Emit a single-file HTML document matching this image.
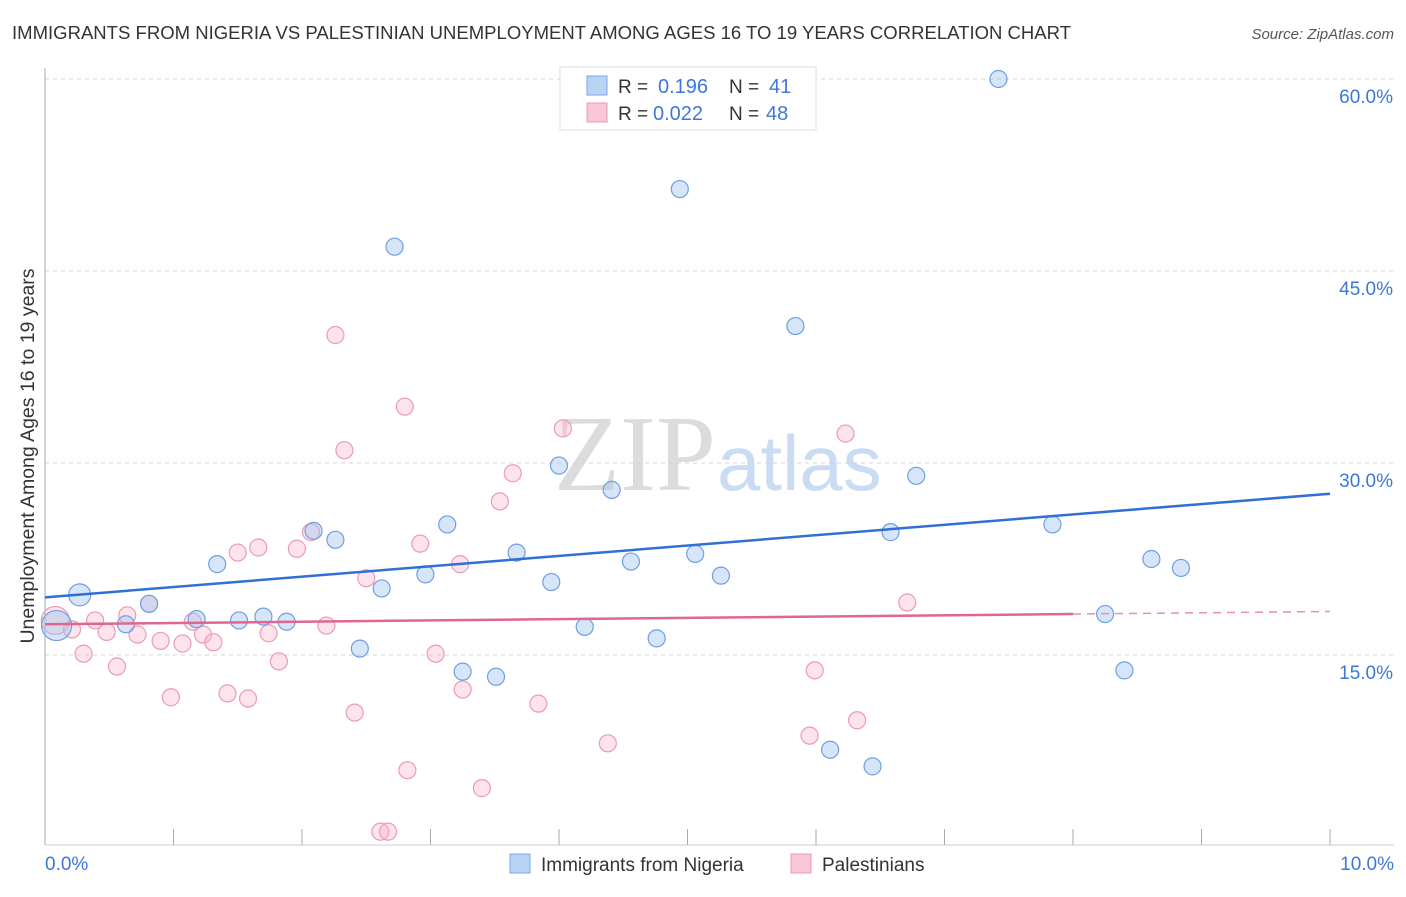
<!DOCTYPE html>
<html><head><meta charset="utf-8"><style>
body{margin:0;background:#fff;font-family:"Liberation Sans",sans-serif;}
svg text{font-family:"Liberation Sans",sans-serif;}
</style></head><body>
<svg id="chart" width="1406" height="892" viewBox="0 0 1406 892" xmlns="http://www.w3.org/2000/svg">
<text x="12" y="39" font-size="18.5" fill="#333" textLength="1059">IMMIGRANTS FROM NIGERIA VS PALESTINIAN UNEMPLOYMENT AMONG AGES 16 TO 19 YEARS CORRELATION CHART</text>
<text x="1394" y="39" font-size="15" fill="#555" font-style="italic" text-anchor="end">Source: ZipAtlas.com</text>
<text x="716" y="490" font-size="108" fill="#dcdcdc" text-anchor="end" style="font-family:'Liberation Serif',serif">ZIP</text>
<text x="717" y="490" font-size="78" fill="#c9dcf3">atlas</text>
<g id="grid"></g>
<g id="axes"></g>
<g id="pts"></g>
<g id="lines"></g>
<text transform="translate(34,456) rotate(-90)" font-size="19.5" fill="#333" text-anchor="middle">Unemployment Among Ages 16 to 19 years</text>
<g>
<rect x="560" y="67" width="256" height="63" fill="#fff" stroke="#ddd"/>
<rect x="587" y="76" width="20" height="19" fill="#b9d3f5" stroke="#7aa6e6"/>
<text x="618" y="93" font-size="19" fill="#333">R = </text><text x="658" y="93" font-size="20" fill="#3b78d8">0.196</text>
<text x="729" y="93" font-size="19" fill="#333">N = </text><text x="769" y="93" font-size="20" fill="#3b78d8">41</text>
<rect x="587" y="103" width="20" height="19" fill="#f9c6d6" stroke="#ee98b6"/>
<text x="618" y="120" font-size="19" fill="#333">R = </text><text x="653" y="120" font-size="20" fill="#3b78d8">0.022</text>
<text x="729" y="120" font-size="19" fill="#333">N = </text><text x="766" y="120" font-size="20" fill="#3b78d8">48</text>
</g>
<g>
<rect x="510" y="854" width="20" height="19" fill="#b9d3f5" stroke="#7aa6e6"/>
<text x="541" y="871" font-size="19" fill="#333">Immigrants from Nigeria</text>
<rect x="791" y="854" width="20" height="19" fill="#f9c6d6" stroke="#ee98b6"/>
<text x="822" y="871" font-size="19" fill="#333">Palestinians</text>
</g>
</svg>
<script>
const xTicks=[0,1,2,3,4,5,6,7,8,9,10];
const yTicks=[15,30,45,60];
const yTickLabels=["15.0%","30.0%","45.0%","60.0%"];
const xEndLabels=["0.0%","10.0%"];
const nigeriaX=[0.27,0.09,0.63,0.81,1.18,1.34,1.51,1.70,1.88,2.09,2.26,2.45,2.62,2.72,2.96,3.13,3.25,3.51,3.67,3.94,4.00,4.20,4.41,4.56,4.76,4.94,5.06,5.26,5.84,6.11,6.44,6.58,6.78,7.42,7.84,8.25,8.40,8.61,8.84];
const nigeriaY=[19.7,17.3,17.4,19.0,17.8,22.1,17.7,18.0,17.6,24.7,24.0,15.5,20.2,46.9,21.3,25.2,13.7,13.3,23.0,20.7,29.8,17.2,27.9,22.3,16.3,51.4,22.9,21.2,40.7,7.6,6.3,24.6,29.0,60.0,25.2,18.2,13.8,22.5,21.8];
const palX=[0.08,0.21,0.30,0.39,0.48,0.56,0.64,0.72,0.81,0.90,0.98,1.07,1.15,1.23,1.31,1.42,1.50,1.58,1.66,1.74,1.82,1.96,2.07,2.19,2.26,2.33,2.41,2.50,2.61,2.67,2.80,2.82,2.92,3.04,3.23,3.25,3.40,3.54,3.64,3.84,4.03,4.38,5.95,5.99,6.23,6.32,6.71];
const palY=[17.7,17.0,15.1,17.7,16.8,14.1,18.1,16.6,19.0,16.1,11.7,15.9,17.6,16.6,16.0,12.0,23.0,11.6,23.4,16.7,14.5,23.3,24.6,17.3,40.0,31.0,10.5,21.0,1.2,1.2,34.4,6.0,23.7,15.1,22.1,12.3,4.6,27.0,29.2,11.2,32.7,8.1,8.7,13.8,32.3,9.9,19.1];
const nigeriaTrend=[19.5,27.6];
const palTrend=[17.4,18.2,18.4];
const palTrendSolidEnd=8.0;
const X=v=>45+v*128.5;
const Y=v=>847-v*12.8;
const NS="http://www.w3.org/2000/svg";
function mk(tag,attrs,parent){const e=document.createElementNS(NS,tag);for(const k in attrs)e.setAttribute(k,attrs[k]);document.getElementById(parent).appendChild(e);return e;}
yTicks.forEach((t,i)=>{
  const l=mk('line',{x1:45,x2:1394,y1:Y(t),y2:Y(t),stroke:'#d5d5d5','stroke-dasharray':'4,4'},'grid');
  
  
  const tx=mk('text',{x:1393,y:Y(t)+24,'font-size':19,fill:'#3b78d8','text-anchor':'end'},'grid');
  tx.textContent=yTickLabels[i];
  
  
});
const ya=mk('line',{x1:45,x2:45,y1:68,y2:845,stroke:'#aaa'},'axes');


const xa=mk('line',{x1:45,x2:1394,y1:845,y2:845,stroke:'#ccc'},'axes');


xTicks.forEach(t=>{
  const l=mk('line',{x1:X(t),x2:X(t),y1:829,y2:845,stroke:'#aaa'},'axes');
  
  
});
[[0,'start',45],[10,'end',1394]].forEach((d,i)=>{
  const tx=mk('text',{x:d[2],y:870,'font-size':19,fill:'#3b78d8','text-anchor':d[1]},'axes');
  tx.textContent=xEndLabels[i];
  
  
});
palX.forEach((x,i)=>{
  const c=mk('circle',{cx:X(x),cy:Y(palY[i]),r:i==0?14:8.5,fill:'rgba(246,176,200,0.35)',stroke:'#eb9ab8','stroke-width':1.2},'pts');
  
  
});
nigeriaX.forEach((x,i)=>{
  const c=mk('circle',{cx:X(x),cy:Y(nigeriaY[i]),r:i==0?11:(i==1?15:8.5),fill:'rgba(165,198,240,0.45)',stroke:'#6f9fe2','stroke-width':1.2},'pts');
  
  
});
const bl=mk('line',{x1:X(0),x2:X(10),y1:Y(nigeriaTrend[0]),y2:Y(nigeriaTrend[1]),stroke:'#2f6fd6','stroke-width':2.5},'lines');


const pl=mk('line',{x1:X(0),x2:X(palTrendSolidEnd),y1:Y(palTrend[0]),y2:Y(palTrend[1]),stroke:'#e0668f','stroke-width':2.5},'lines');


const pd=mk('line',{x1:X(palTrendSolidEnd),x2:X(10),y1:Y(palTrend[1]),y2:Y(palTrend[2]),stroke:'#e98fb0','stroke-width':1.5,'stroke-dasharray':'8,6'},'lines');


</script>
</body></html>
